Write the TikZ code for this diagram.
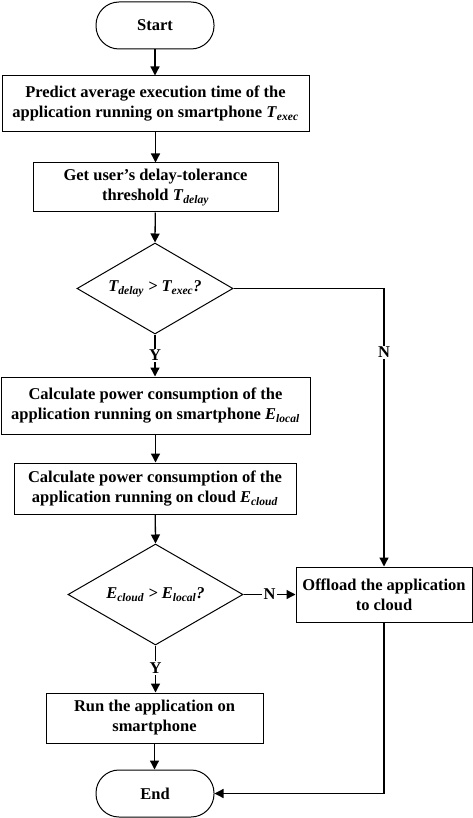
\documentclass[tikz,border=0pt]{standalone}
\usepackage{fontspec}
\setmainfont{Liberation Serif}
\usetikzlibrary{shapes.geometric,arrows.meta}
\newcommand\myv[2]{\textit{#1}\textsubscript{\textit{#2}}}
\begin{document}
\begin{tikzpicture}[x=1pt,y=-1pt,
  box/.style={draw, line width=1pt, align=center, inner sep=2pt, font=\bfseries\fontsize{16.5}{20}\selectfont},
  term/.style={box, rounded corners=23pt, minimum width=118pt, minimum height=47pt},
  dec/.style={box, shape=diamond, aspect=1.7, inner sep=0pt},
  arr/.style={line width=1.3pt, -{Triangle[length=9pt,width=9pt]}},
  lbl/.style={fill=white, inner sep=1.5pt, font=\bfseries\fontsize{16.5}{20}\selectfont}]
\useasboundingbox (0,0) rectangle (473,818);
\node[term] (start) at (155,25.5) {Start};
\node[box, minimum width=307pt, minimum height=56pt] (b1) at (155.5,104)
  {Predict average execution time of the\\application running on smartphone \myv{T}{exec}};
\node[box, minimum width=245pt, minimum height=49pt] (b2) at (155.5,187.5)
  {Get user’s delay-tolerance\\threshold \myv{T}{delay}};
\node[dec, minimum width=156pt, minimum height=91pt] (d1) at (155,288.5)
  {\itshape \myv{T}{delay} > \myv{T}{exec}?};
\node[box, minimum width=309pt, minimum height=57pt] (b3) at (155.5,405.5)
  {Calculate power consumption of the\\application running on smartphone \myv{E}{local}};
\node[box, minimum width=282pt, minimum height=51pt] (b4) at (155,488.5)
  {Calculate power consumption of the\\application running on cloud \myv{E}{cloud}};
\node[dec, minimum width=175pt, minimum height=101pt] (d2) at (155.5,594.5)
  {\itshape \myv{E}{cloud} > \myv{E}{local}?};
\node[box, minimum width=176pt, minimum height=55pt] (off) at (384,594.5)
  {Offload the application\\to cloud};
\node[box, minimum width=217pt, minimum height=50pt] (b5) at (154.5,718)
  {Run the application on\\smartphone};
\node[term] (end) at (155,793.5) {End};
\coordinate (c1) at (384,288.5);

\draw[arr] (start) -- (start |- b1.north);
\draw[arr] (b1) -- (b1 |- b2.north);
\draw[arr] (b2) -- (d1.north);
\draw[arr] (d1.south) -- node[lbl]{Y} (d1.south |- b3.north);
\draw[arr] (d1.east) -- (c1) -- node[lbl,pos=0.23]{N} (off.north);
\draw[arr] (b3) -- (b3 |- b4.north);
\draw[arr] (b4) -- (d2.north);
\draw[arr] (d2.east) -- node[lbl]{N} (off.west);
\draw[arr] (d2.south) -- node[lbl,pos=0.48]{Y} (d2.south |- b5.north);
\draw[arr] (b5) -- (b5 |- end.north);
\draw[arr] (off.south) |- (end.east);
\end{tikzpicture}
\end{document}
